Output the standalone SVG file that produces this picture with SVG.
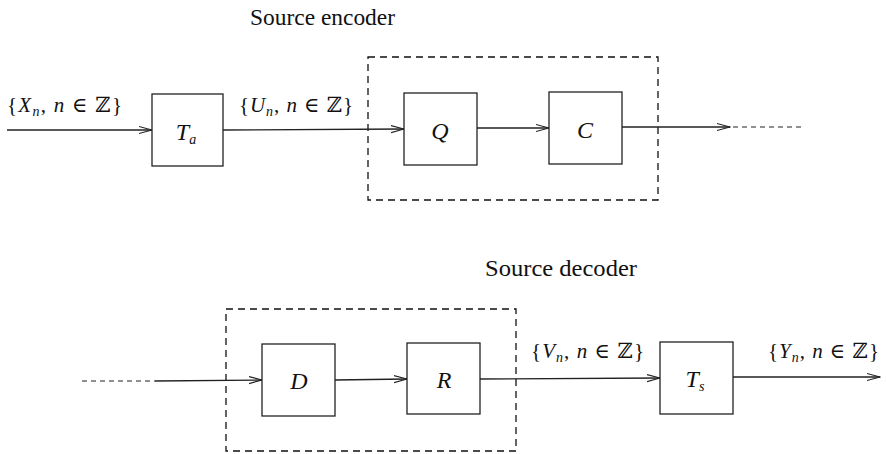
<svg xmlns="http://www.w3.org/2000/svg" width="886" height="454" viewBox="0 0 886 454">
<style>
.box{fill:#fff;stroke:#222;stroke-width:1.3}
.dash{fill:none;stroke:#111;stroke-width:1.3;stroke-dasharray:7,5}
.ln{fill:none;stroke:#222;stroke-width:1.3}
.dl{fill:none;stroke:#222;stroke-width:1.2;stroke-dasharray:5,4}
text{font-family:"Liberation Serif","DejaVu Serif",serif;fill:#111}
.t{font-size:23px}
.m{font-size:21px}
.v{font-style:italic}
.sub{font-size:14px;font-style:italic}
.bx{font-size:24px;font-style:italic;text-anchor:middle}
</style>
<defs>
<marker id="ar" markerWidth="14" markerHeight="10" refX="13" refY="5" orient="auto" markerUnits="userSpaceOnUse">
<path d="M0,1.5 L13,5 L0,8.5" fill="none" stroke="#222" stroke-width="1.2"/>
</marker>
</defs>
<text class="t" x="250" y="25" textLength="145" lengthAdjust="spacingAndGlyphs">Source encoder</text>
<text class="t" x="485" y="276" textLength="152" lengthAdjust="spacingAndGlyphs">Source decoder</text>
<rect class="dash" x="368" y="57" width="290" height="143"/>
<rect class="dash" x="226" y="309" width="290" height="142"/>
<g id="connectors">
<line class="ln" x1="7" y1="130" x2="152" y2="130" marker-end="url(#ar)"/>
<line class="ln" x1="223" y1="130" x2="404" y2="129" marker-end="url(#ar)"/>
<line class="ln" x1="477" y1="128" x2="549" y2="128" marker-end="url(#ar)"/>
<line class="ln" x1="622" y1="127" x2="730" y2="127" marker-end="url(#ar)"/>
<line class="dl" x1="733" y1="127" x2="803" y2="127"/>
<line class="dl" x1="82" y1="381" x2="155" y2="381"/>
<line class="ln" x1="155" y1="381" x2="262" y2="380" marker-end="url(#ar)"/>
<line class="ln" x1="335" y1="380" x2="407" y2="379" marker-end="url(#ar)"/>
<line class="ln" x1="480" y1="379" x2="660" y2="378" marker-end="url(#ar)"/>
<line class="ln" x1="733" y1="377" x2="880" y2="377" marker-end="url(#ar)"/>
</g>
<g id="node-Ta"><rect class="box" x="152" y="94" width="71" height="72"/><text class="bx" x="186" y="140">T<tspan class="sub" dy="4">a</tspan></text></g>
<g id="node-Q"><rect class="box" x="404" y="93" width="73" height="72"/><text class="bx" x="440" y="139">Q</text></g>
<g id="node-C"><rect class="box" x="549" y="92" width="73" height="72"/><text class="bx" x="585" y="138">C</text></g>
<g id="node-D"><rect class="box" x="262" y="344" width="73" height="72"/><text class="bx" x="299" y="389">D</text></g>
<g id="node-R"><rect class="box" x="407" y="343" width="73" height="71"/><text class="bx" x="444" y="388">R</text></g>
<g id="node-Ts"><rect class="box" x="660" y="342" width="73" height="72"/><text class="bx" x="695" y="387">T<tspan class="sub" dy="4">s</tspan></text></g>
<text class="m" x="7" y="112" textLength="115" lengthAdjust="spacing">{<tspan class="v">X</tspan><tspan class="sub" dy="4">n</tspan><tspan dy="-4">, </tspan><tspan class="v">n</tspan> ∈ ℤ}</text>
<text class="m" x="239" y="112" textLength="114" lengthAdjust="spacing">{<tspan class="v">U</tspan><tspan class="sub" dy="4">n</tspan><tspan dy="-4">, </tspan><tspan class="v">n</tspan> ∈ ℤ}</text>
<text class="m" x="531" y="358" textLength="113" lengthAdjust="spacing">{<tspan class="v">V</tspan><tspan class="sub" dy="4">n</tspan><tspan dy="-4">, </tspan><tspan class="v">n</tspan> ∈ ℤ}</text>
<text class="m" x="768" y="358" textLength="111" lengthAdjust="spacing">{<tspan class="v">Y</tspan><tspan class="sub" dy="4">n</tspan><tspan dy="-4">, </tspan><tspan class="v">n</tspan> ∈ ℤ}</text>
</svg>
